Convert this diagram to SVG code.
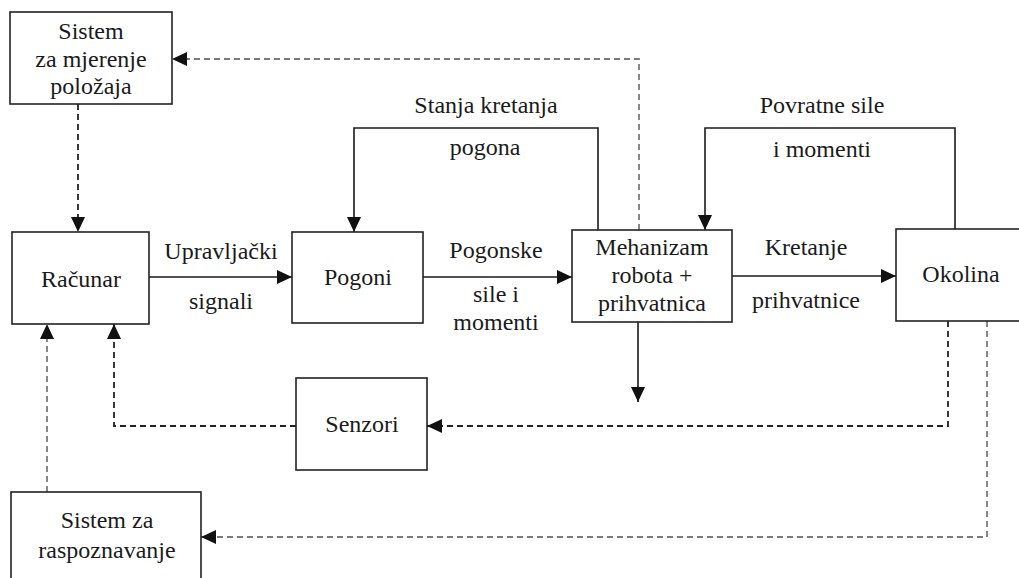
<svg xmlns="http://www.w3.org/2000/svg" width="1019" height="578" viewBox="0 0 1019 578">
<style>
.box{fill:#fff;stroke:#222;stroke-width:1.6}
text{font-family:'Liberation Serif','DejaVu Serif','Times New Roman',serif;font-size:24px;fill:#1a1a1a;text-anchor:middle}
.c{fill:none;stroke:#1a1a1a;stroke-width:1.6}
.d{fill:none;stroke:#222;stroke-width:1.8;stroke-dasharray:6 4}
.g{fill:none;stroke:#7a7a7a;stroke-width:1.8;stroke-dasharray:6 4}
</style>
<defs>
<marker id="a" markerUnits="userSpaceOnUse" markerWidth="16" markerHeight="14" refX="15" refY="7" orient="auto">
<path d="M0,0 L15,7 L0,14 z" fill="#111"/>
</marker>
</defs>
<rect width="1019" height="578" fill="#fff"/>
<g id="connectors">
<line class="c" x1="149" y1="277" x2="292" y2="277" marker-end="url(#a)"/>
<line class="c" x1="423" y1="277" x2="572" y2="277" marker-end="url(#a)"/>
<line class="c" x1="732" y1="276" x2="896" y2="276" marker-end="url(#a)"/>
<polyline class="c" points="598,230 598,128 354,128 354,232" marker-end="url(#a)"/>
<polyline class="c" points="955,229 955,128 705,128 705,230" marker-end="url(#a)"/>
<line class="c" x1="638" y1="322" x2="638" y2="402" marker-end="url(#a)"/>
<polyline class="g" points="639,230 639,59 172,59" marker-end="url(#a)"/>
<line class="d" x1="78" y1="104" x2="78" y2="232" marker-end="url(#a)"/>
<polyline class="d" points="948,321 948,426 427,426" marker-end="url(#a)"/>
<polyline class="d" points="296,426 114,426 114,324" marker-end="url(#a)"/>
<polyline class="g" points="987,321 987,537 201,537" marker-end="url(#a)"/>
<line class="g" x1="47" y1="492" x2="47" y2="324" marker-end="url(#a)"/>
</g>
<g id="labels" font-family="Liberation Serif, DejaVu Serif, serif">
<text x="221" y="259">Upravljački</text>
<text x="221" y="309">signali</text>
<text x="496" y="258">Pogonske</text>
<text x="496" y="302">sile i</text>
<text x="496" y="330">momenti</text>
<text x="486" y="113">Stanja kretanja</text>
<text x="485" y="155">pogona</text>
<text x="806" y="255">Kretanje</text>
<text x="806" y="308">prihvatnice</text>
<text x="822" y="113">Povratne sile</text>
<text x="822" y="157">i momenti</text>
</g>
<g id="n-mjerenje">
<rect class="box" x="10" y="12" width="162" height="92"/>
<text x="91" y="39">Sistem</text>
<text x="91" y="67">za mjerenje</text>
<text x="91" y="94">položaja</text>
</g>
<g id="n-racunar">
<rect class="box" x="12" y="232" width="137" height="92"/>
<text x="81" y="287">Računar</text>
</g>
<g id="n-pogoni">
<rect class="box" x="292" y="232" width="131" height="91"/>
<text x="358" y="285">Pogoni</text>
</g>
<g id="n-mehanizam">
<rect class="box" x="572" y="230" width="160" height="92"/>
<text x="652" y="255">Mehanizam</text>
<text x="652" y="283">robota +</text>
<text x="652" y="311">prihvatnica</text>
</g>
<g id="n-okolina">
<rect class="box" x="896" y="229" width="140" height="92"/>
<text x="961" y="282">Okolina</text>
</g>
<g id="n-senzori">
<rect class="box" x="296" y="378" width="131" height="92"/>
<text x="362" y="432">Senzori</text>
</g>
<g id="n-raspoznavanje">
<rect class="box" x="11" y="492" width="190" height="100"/>
<text x="107" y="528">Sistem za</text>
<text x="107" y="558">raspoznavanje</text>
</g>
</svg>
